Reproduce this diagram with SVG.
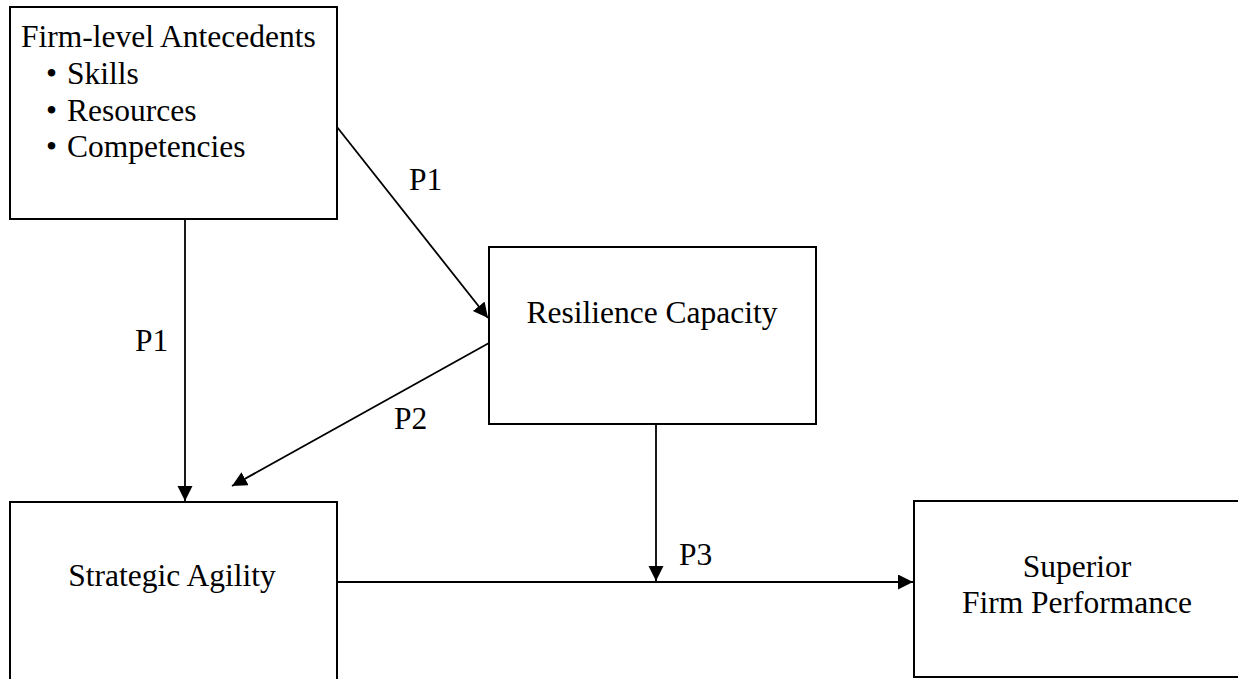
<svg xmlns="http://www.w3.org/2000/svg" width="1238" height="679" viewBox="0 0 1238 679">
<style>
.box{fill:#fff;stroke:#000;stroke-width:2}
.t{font-family:"Liberation Serif","Times New Roman",serif;font-size:31.5px;fill:#000}
.c{text-anchor:middle}
.ln{stroke:#000;stroke-width:1.8;fill:none}
</style>
<defs>
<marker id="ah" markerUnits="userSpaceOnUse" markerWidth="16" markerHeight="16" refX="15" refY="7.5" orient="auto">
<path d="M0,0 L15,7.5 L0,15 z" fill="#000"/>
</marker>
</defs>
<rect width="1238" height="679" fill="#fff"/>
<g id="connectors">
<line class="ln" x1="337" y1="127" x2="488" y2="318" marker-end="url(#ah)"/>
<line class="ln" x1="185" y1="219" x2="185" y2="501" marker-end="url(#ah)"/>
<line class="ln" x1="489" y1="343" x2="232" y2="486" marker-end="url(#ah)"/>
<line class="ln" x1="656" y1="424" x2="656" y2="581" marker-end="url(#ah)"/>
<line class="ln" x1="337" y1="582" x2="913" y2="582" marker-end="url(#ah)"/>
<text class="t" x="409" y="190">P1</text>
<text class="t" x="135" y="351">P1</text>
<text class="t" x="394" y="429">P2</text>
<text class="t" x="679" y="565">P3</text>
</g>
<g id="antecedents">
<rect class="box" x="10" y="7" width="327" height="212"/>
<text class="t" x="21" y="47">Firm-level Antecedents</text>
<text class="t" x="46" y="84">•</text><text class="t" x="67" y="84">Skills</text>
<text class="t" x="46" y="121">•</text><text class="t" x="67" y="121">Resources</text>
<text class="t" x="46" y="157">•</text><text class="t" x="67" y="157">Competencies</text>
</g>
<g id="resilience">
<rect class="box" x="489" y="247" width="327" height="177"/>
<text class="t c" x="652" y="323">Resilience Capacity</text>
</g>
<g id="agility">
<rect class="box" x="10" y="502" width="327" height="190"/>
<text class="t c" x="172" y="586">Strategic Agility</text>
</g>
<g id="performance">
<rect class="box" x="914" y="501" width="340" height="176"/>
<text class="t c" x="1077" y="577">Superior</text>
<text class="t c" x="1077" y="613">Firm Performance</text>
</g>
</svg>
